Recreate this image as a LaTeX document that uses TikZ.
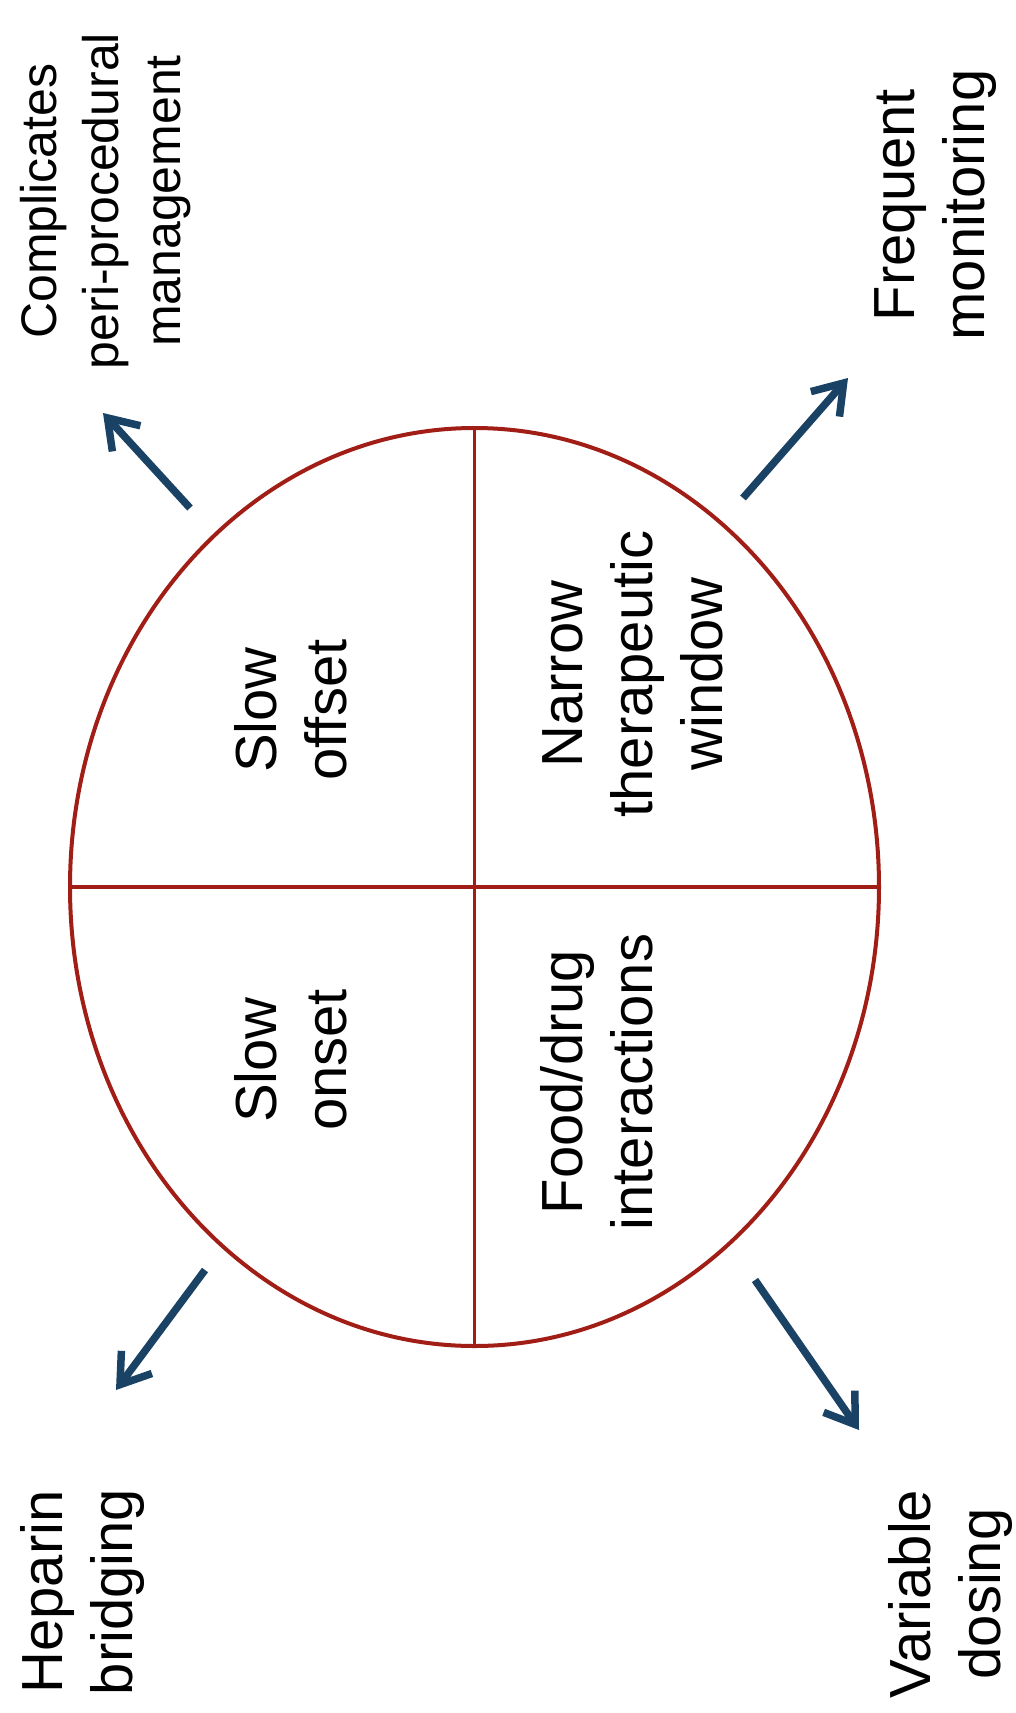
\documentclass[tikz,border=0pt]{standalone}
\usepackage{fontspec}
\setmainfont{Liberation Sans}
\usetikzlibrary{arrows.meta,shapes.geometric}
\definecolor{ringred}{RGB}{160,30,22}
\definecolor{arrowblue}{RGB}{26,66,100}
\begin{document}
\begin{tikzpicture}[x=1pt,y=-1pt,
  lbl/.style={rotate=90,align=center,inner sep=0pt,font=\fontsize{58}{70}\selectfont},
  smalllbl/.style={rotate=90,align=center,inner sep=0pt,font=\fontsize{50}{62}\selectfont},
  divider/.style={draw=ringred,line width=3.5pt},
  outarrow/.style={draw=arrowblue,line width=7.5pt,-{Straight Barb[length=28pt,width=38pt]}}]
\useasboundingbox (0,0) rectangle (1016,1713);
\fill[white] (0,0) rectangle (1016,1713);
% ellipse
\node[ellipse,draw=ringred,line width=4pt,minimum width=809pt,minimum height=918pt,inner sep=0pt] (ring) at (474.5,887) {};
\draw[divider] (ring.north) -- (ring.south);
\draw[divider] (ring.west) -- (ring.east);
% inner labels
\node[lbl] (slowoff) at (291,710) {Slow\\offset};
\node[lbl] (slowon) at (291,1060) {Slow\\onset};
\node[lbl] (narrow) at (633,674) {Narrow\\therapeutic\\window};
\node[lbl] (food) at (597,1082) {Food/drug\\interactions};
% outer labels
\node[smalllbl] (comp) at (106,201) {Complicates\\peri-procedural\\management};
\node[lbl] (freq) at (936,205) {Frequent\\monitoring};
\node[lbl] (hep) at (83,1592) {Heparin\\bridging};
\node[lbl] (var) at (950,1594) {Variable\\dosing};
% arrow ends
\coordinate (tlA) at (190,508); \coordinate (tlB) at (103,413);
\coordinate (trA) at (743,498); \coordinate (trB) at (848,378);
\coordinate (blA) at (205,1270); \coordinate (blB) at (116,1390);
\coordinate (brA) at (755,1280); \coordinate (brB) at (859,1430);
\draw[outarrow] (tlA) -- (tlB);
\draw[outarrow] (trA) -- (trB);
\draw[outarrow] (blA) -- (blB);
\draw[outarrow] (brA) -- (brB);
\end{tikzpicture}
\end{document}
